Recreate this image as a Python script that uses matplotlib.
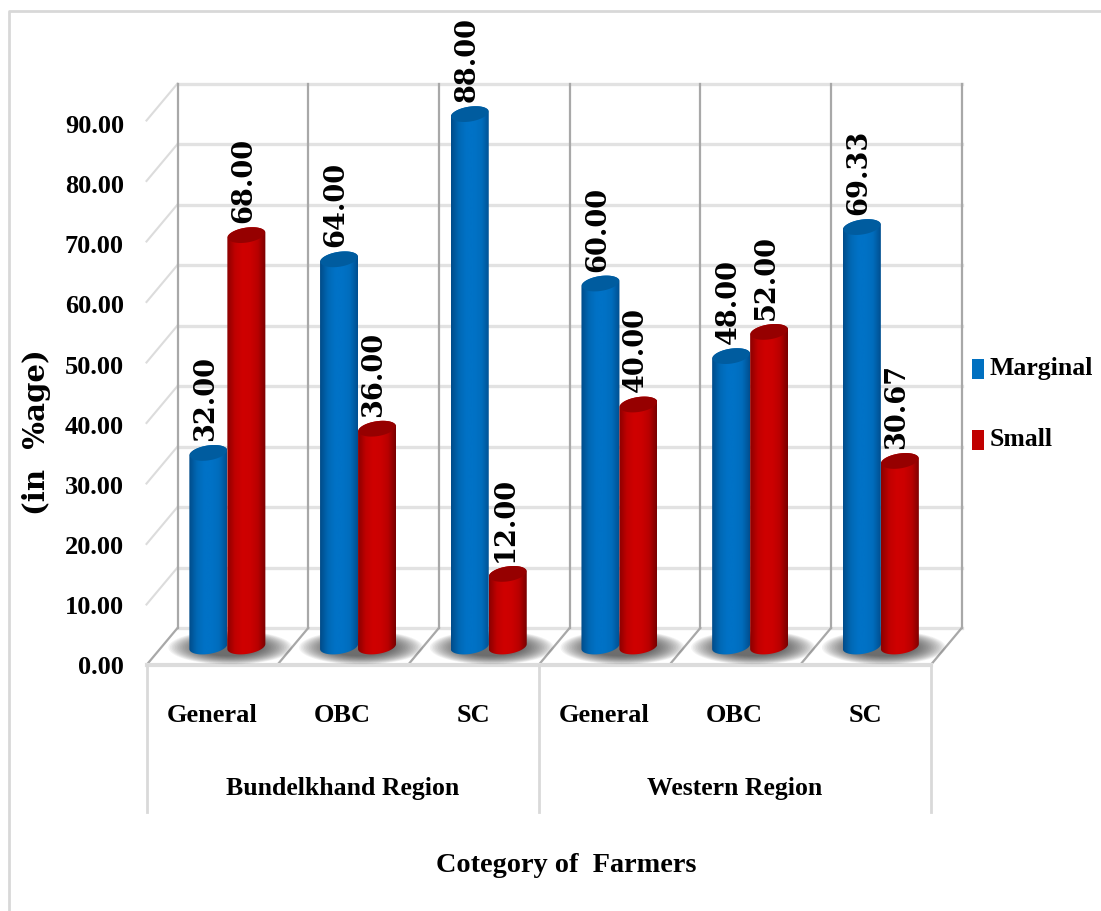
import matplotlib
matplotlib.use('Agg')
import matplotlib.pyplot as plt
from matplotlib.colors import LinearSegmentedColormap
from matplotlib.patches import Polygon
import numpy as np

categories = ['General', 'OBC', 'SC', 'General', 'OBC', 'SC']
regions = ['Bundelkhand Region', 'Western Region']
marginal = [32.00, 64.00, 88.00, 60.00, 48.00, 69.33]
small = [68.00, 36.00, 12.00, 40.00, 52.00, 30.67]
ticks = [0, 10, 20, 30, 40, 50, 60, 70, 80, 90]

W, H = 1101, 911
X0, Y0 = 146.5, 665.0     # pixel of the front corner
GROUP = 130.7             # pixels per category
UNIT = 6.05               # pixels per percent
DX, DY = 31.0, 37.0       # depth of the floor
RX, RY, TILT = 19.0, 7.5, 2.5

SERIF = 'Liberation Serif'
WIDE = 'DejaVu Serif'

blue_map = LinearSegmentedColormap.from_list('b', ['#004c8a', '#0068b4', '#0072c6', '#0072c6', '#006cbc', '#004f90'])
red_map = LinearSegmentedColormap.from_list('r', ['#8c0000', '#c00000', '#cf0000', '#cc0000', '#b80000', '#7a0000'])


def gx(px):
    return (px - X0) / GROUP


def gy(py):
    return (Y0 - py) / UNIT


def ellipse(cx, cy, rx, ry, tilt, a=0.0, b=2 * np.pi):
    t = np.linspace(a, b, 60)
    return cx + rx * np.cos(t) / GROUP, cy + (ry * np.sin(t) + tilt * np.cos(t)) / UNIT


def cylinder(ax, cx, value, cmap, top_color, z):
    cy0 = DY / 2 / UNIT
    x1, y1 = ellipse(cx, cy0, RX, RY, TILT, np.pi, 2 * np.pi)
    x2, y2 = ellipse(cx, cy0 + value, RX, RY, TILT, 0, np.pi)
    outline = Polygon(np.c_[np.r_[x1, x2], np.r_[y1, y2]], closed=True,
                      fc='none', ec='none', zorder=z)
    ax.add_patch(outline)
    grad = np.linspace(0, 1, 64)[None, :]
    im = ax.imshow(grad, cmap=cmap, aspect='auto', zorder=z, interpolation='bilinear',
                   extent=(cx - RX / GROUP, cx + RX / GROUP, cy0 - 2, cy0 + value + 3))
    im.set_clip_path(outline)
    xt, yt = ellipse(cx, cy0 + value, RX - 0.5, RY, TILT)
    ax.fill(xt, yt, color=top_color, lw=0, zorder=z + 0.1)


fig = plt.figure(figsize=(W / 100, H / 100), dpi=100)
ax = fig.add_axes([0, 0, 1, 1])
ax.set_xlim(gx(0), gx(W))
ax.set_ylim(gy(H), gy(0))
ax.axis('off')

# outer frame, only top and left survive
ax.plot([gx(9), gx(9), gx(W)], [gy(H), gy(11), gy(11)], color='#d8d8d8', lw=2, zorder=1)

# walls
n = len(categories)
dx, dy = DX / GROUP, DY / UNIT
for t in ticks:
    ax.plot([dx, n + dx], [t + dy, t + dy], color='#e2e2e2', lw=2.4, zorder=1.1)
    if t > 0:
        ax.plot([0, dx], [t, t + dy], color='#dcdcdc', lw=1.5, zorder=1.1)
for i in range(n + 1):
    ax.plot([i + dx, i + dx], [dy, 90 + dy], color='#a8a8a8', lw=1.6, zorder=1.2)
    ax.plot([i, i + dx], [0, dy], color='#a8a8a8', lw=1.6, zorder=1.2)
ax.plot([0, n], [0, 0], color='#dcdcdc', lw=3, zorder=1.2)
for i in [0, 3, 6]:
    ax.plot([i, i], [0, gy(812)], color='#d9d9d9', lw=2, zorder=1.2)

# shadows on the floor
for i in range(n):
    cx = i + 0.5 + dx / 2 + 3 / GROUP
    for s in np.linspace(1, 0.5, 20):
        xs, ys = ellipse(cx, dy / 2 - 1 / UNIT, 62 * s, 17 * s, 0)
        ax.fill(xs, ys, color='#303030', alpha=0.055, lw=0, zorder=1.5)

# bars
rx = RX / GROUP
for i in range(n):
    c = i + 0.5 + dx / 2
    cylinder(ax, c - rx, marginal[i], blue_map, '#005c9f', 2 + i * 0.5)
    cylinder(ax, c + rx, small[i], red_map, '#960000', 2.2 + i * 0.5)
    for cx, v in ((c - rx, marginal[i]), (c + rx, small[i])):
        ax.text(cx - 3 / GROUP, v + dy / 2 + 12 / UNIT, '%.2f' % v, rotation=90,
                ha='center', va='bottom', family=WIDE, weight='bold', fontsize=19.5,
                color='black', zorder=10)

# axis text
for t in ticks:
    ax.text(gx(124), t * 0.995 - 3 / UNIT, '%.2f' % t, ha='right', va='center', family=SERIF,
            weight='bold', fontsize=19, color='black')
for i, name in enumerate(categories):
    ax.text(i + 0.5, gy(715), name, ha='center', va='center', family=SERIF,
            weight='bold', fontsize=19, color='black')
for i, name in enumerate(regions):
    ax.text(1.5 + 3 * i, gy(789), name, ha='center', va='center', family=SERIF,
            weight='bold', fontsize=18.5, color='black')

ax.text(gx(37), gy(432), '(in  %age)', rotation=90, ha='center', va='center',
        family=WIDE, weight='bold', fontsize=21, color='black')
ax.text(gx(566), gy(865), 'Cotegory of  Farmers', ha='center', va='center',
        family=SERIF, weight='bold', fontsize=20.3, color='black')

# legend
for name, col, py in (('Marginal', '#0070c0', 369), ('Small', '#c00000', 440)):
    ax.fill([gx(972), gx(984), gx(984), gx(972)], [gy(py - 10), gy(py - 10), gy(py + 10), gy(py + 10)],
            color=col, lw=0)
    ax.text(gx(990), gy(py), name, ha='left', va='center', family=SERIF, weight='bold',
            fontsize=18.5, color='black')

ax.set_xlim(gx(0), gx(W))
ax.set_ylim(gy(H), gy(0))
fig.savefig('out.png', dpi=100)
